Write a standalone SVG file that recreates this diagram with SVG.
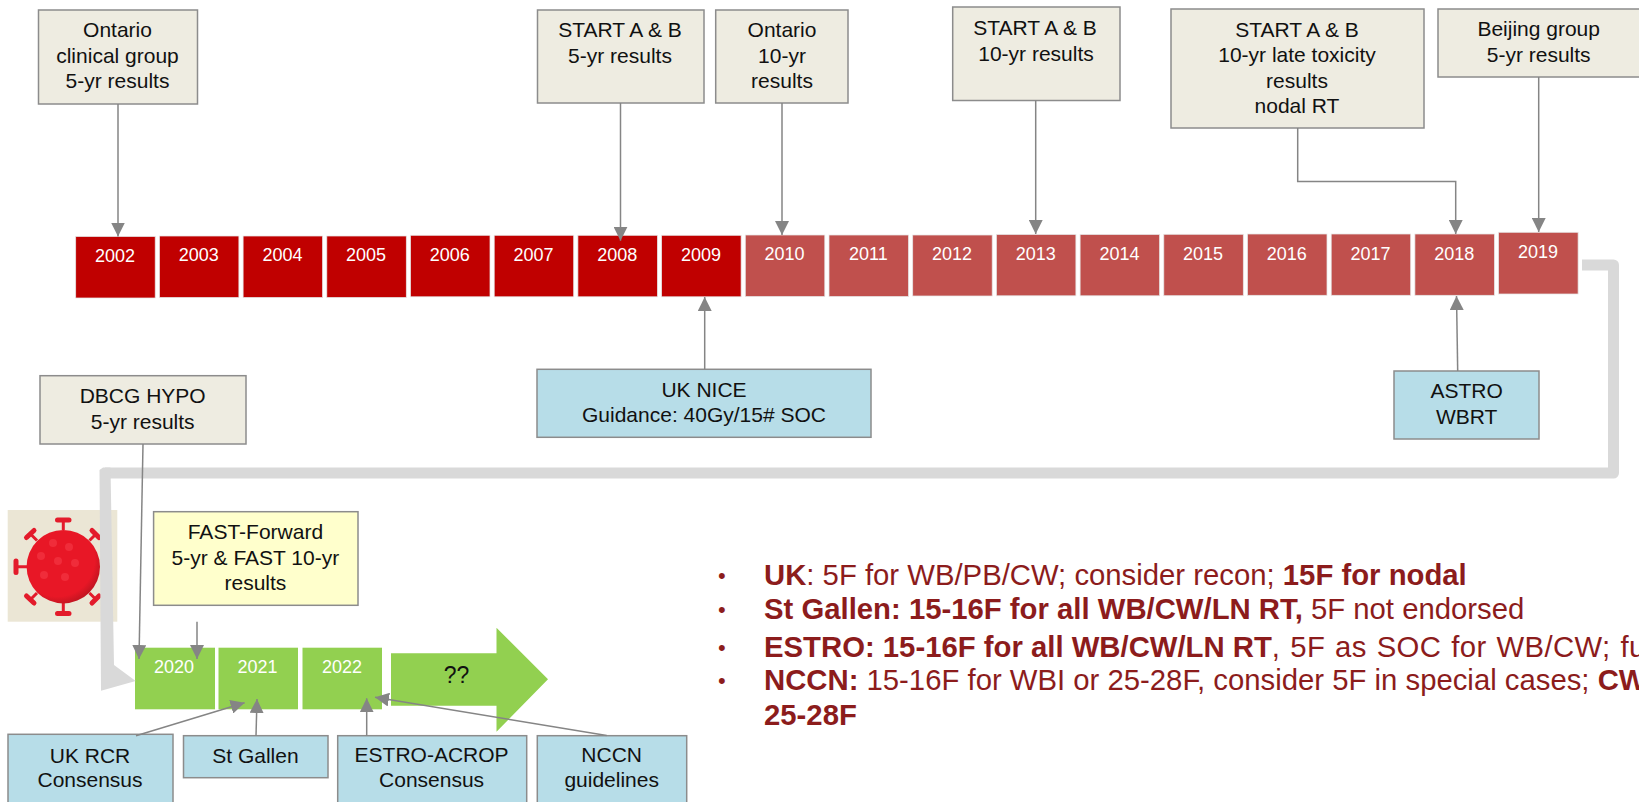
<svg xmlns="http://www.w3.org/2000/svg" width="1639" height="802" viewBox="0 0 1639 802">
<style>
text{font-family:"Liberation Sans",Arial,sans-serif}
.b{stroke:#8c8c8c;stroke-width:1.5}
.note{fill:#eeece1}.guide{fill:#b7dde8}.yellow{fill:#ffffcc}
.t{font-size:21px;fill:#111;text-anchor:middle}
.q{font-size:23px}
.yr{stroke:#e6e6e6;stroke-width:.75}
.y{font-size:18px;fill:#fff;text-anchor:middle}
.dark{fill:#c00000}.light{fill:#c0504d}.green{fill:#92d050}
.c{fill:none;stroke:#858585;stroke-width:1.5;marker-end:url(#ah)}
.l{font-size:29.3px;fill:#8c1c1c}
.dot{font-size:22px;fill:#8c1c1c}
.bd{font-weight:bold}
.wide{letter-spacing:.4px;word-spacing:1.3px}
.spike{stroke:#e31b2b;stroke-width:3;fill:none}
.cap{stroke:#e31b2b;stroke-width:5;stroke-linecap:round;fill:none}
.spot{fill:#f02c3a}
</style>
<defs>
<marker id="ah" markerUnits="userSpaceOnUse" markerWidth="14" markerHeight="14" refX="14" refY="7" orient="auto"><path d="M0 0L14 7L0 14Z" fill="#858585"/></marker>
<radialGradient id="vg" cx="0.42" cy="0.4" r="0.65"><stop offset="0.78" stop-color="#e81726"/><stop offset="1" stop-color="#b8141f"/></radialGradient>
</defs>
<g id="virus">
<rect x="7.7" y="510" width="109.6" height="111.7" fill="#ebe6d5"/>
<path class="spike" d="M63.3 530V522M63.3 603V612M27 566.7H18M37 540.5L31 534.5M37 593L31 599M89.5 540.5L95.5 534.5M89.5 593L95.5 599"/>
<path class="cap" d="M57.5 520H69M57.5 613.5H69M16 561V572.5M26.5 537.5L34 530.5M26.5 596L34 603M92 530.5L99 537.5M92 603L99 596"/>
<circle cx="63.3" cy="566.7" r="36.7" fill="url(#vg)"/>
<circle class="spot" cx="53" cy="543" r="4"/><circle class="spot" cx="69" cy="547" r="4"/><circle class="spot" cx="41" cy="556" r="4"/><circle class="spot" cx="58" cy="561" r="4"/><circle class="spot" cx="75" cy="563" r="4"/><circle class="spot" cx="44" cy="575" r="4"/><circle class="spot" cx="65" cy="577" r="4"/>
</g>
<g id="n-ontario-5"><rect class="b note" x="38.5" y="10" width="159" height="94"/><text class="t" x="117.5" y="37">Ontario</text><text class="t" x="117.5" y="63">clinical group</text><text class="t" x="117.5" y="88">5-yr results</text></g>
<g id="n-start-5"><rect class="b note" x="537.5" y="10" width="166.5" height="93"/><text class="t" x="620" y="37">START A &amp; B</text><text class="t" x="620" y="63">5-yr results</text></g>
<g id="n-ontario-10"><rect class="b note" x="715.7" y="10" width="132.3" height="93"/><text class="t" x="782" y="37">Ontario</text><text class="t" x="782" y="63">10-yr</text><text class="t" x="782" y="88">results</text></g>
<g id="n-start-10"><rect class="b note" x="952.7" y="7" width="167.3" height="93.5"/><text class="t" x="1035" y="35">START A &amp; B</text><text class="t" x="1036" y="60.5">10-yr results</text></g>
<g id="n-start-late"><rect class="b note" x="1171" y="9" width="253" height="119"/><text class="t" x="1297" y="36.7">START A &amp; B</text><text class="t" x="1297" y="62">10-yr late toxicity</text><text class="t" x="1297" y="87.5">results</text><text class="t" x="1297" y="113">nodal RT</text></g>
<g id="n-beijing"><rect class="b note" x="1438" y="9" width="210" height="68"/><text class="t" x="1538.7" y="36">Beijing group</text><text class="t" x="1538.7" y="62">5-yr results</text></g>
<g id="n-nice"><rect class="b guide" x="537" y="369.3" width="334" height="68"/><text class="t" x="704" y="396.7">UK NICE</text><text class="t" x="704" y="422.3">Guidance: 40Gy/15# SOC</text></g>
<g id="n-astro"><rect class="b guide" x="1394" y="371" width="145" height="68"/><text class="t" x="1466.7" y="398">ASTRO</text><text class="t" x="1466.7" y="424">WBRT</text></g>
<g id="n-dbcg"><rect class="b note" x="40" y="375.7" width="206" height="68.3"/><text class="t" x="142.7" y="403.3">DBCG HYPO</text><text class="t" x="142.7" y="429.3">5-yr results</text></g>
<g id="n-fast"><rect class="b yellow" x="153.6" y="511.7" width="204.4" height="93.6"/><text class="t" x="255.4" y="539.3">FAST-Forward</text><text class="t" x="255.4" y="565">5-yr &amp; FAST 10-yr</text><text class="t" x="255.4" y="589.5">results</text></g>
<g id="n-rcr"><rect class="b guide" x="8" y="734.3" width="165" height="80"/><text class="t" x="90" y="762.7">UK RCR</text><text class="t" x="90" y="787.3">Consensus</text></g>
<g id="n-stgallen"><rect class="b guide" x="183.5" y="735.7" width="144.5" height="42"/><text class="t" x="255.4" y="762.7">St Gallen</text></g>
<g id="n-estro"><rect class="b guide" x="337.7" y="735.7" width="189" height="80"/><text class="t" x="431.6" y="761.7">ESTRO-ACROP</text><text class="t" x="431.6" y="787.3">Consensus</text></g>
<g id="n-nccn"><rect class="b guide" x="537.3" y="735.7" width="149.4" height="80"/><text class="t" x="611.7" y="761.7">NCCN</text><text class="t" x="611.7" y="787.3">guidelines</text></g>
<g id="y2002"><rect class="yr dark" x="75.7" y="236.5" width="79.5" height="61.5"/><text class="y" x="115" y="261.7">2002</text></g>
<g id="y2003"><rect class="yr dark" x="159.4" y="236" width="79.5" height="61.5"/><text class="y" x="198.7" y="261.3">2003</text></g>
<g id="y2004"><rect class="yr dark" x="243.1" y="236" width="79.5" height="61.5"/><text class="y" x="282.4" y="261.3">2004</text></g>
<g id="y2005"><rect class="yr dark" x="326.8" y="236" width="79.5" height="61.5"/><text class="y" x="366.1" y="261.3">2005</text></g>
<g id="y2006"><rect class="yr dark" x="410.5" y="235.3" width="79.5" height="61.5"/><text class="y" x="449.8" y="260.7">2006</text></g>
<g id="y2007"><rect class="yr dark" x="494.2" y="235.3" width="79.5" height="61.5"/><text class="y" x="533.5" y="260.7">2007</text></g>
<g id="y2008"><rect class="yr dark" x="577.9" y="235.3" width="79.5" height="61.5"/><text class="y" x="617.2" y="260.7">2008</text></g>
<g id="y2009"><rect class="yr dark" x="661.6" y="235.3" width="79.5" height="61.5"/><text class="y" x="700.9" y="260.7">2009</text></g>
<g id="y2010"><rect class="yr light" x="745.3" y="235" width="79.5" height="61.5"/><text class="y" x="784.6" y="260.3">2010</text></g>
<g id="y2011"><rect class="yr light" x="829" y="235" width="79.5" height="61.5"/><text class="y" x="868.3" y="260.3">2011</text></g>
<g id="y2012"><rect class="yr light" x="912.7" y="235" width="79.5" height="61"/><text class="y" x="952" y="260">2012</text></g>
<g id="y2013"><rect class="yr light" x="996.4" y="234.5" width="79.5" height="61.3"/><text class="y" x="1035.7" y="260">2013</text></g>
<g id="y2014"><rect class="yr light" x="1080.1" y="234.5" width="79.5" height="61.3"/><text class="y" x="1119.4" y="260">2014</text></g>
<g id="y2015"><rect class="yr light" x="1163.8" y="234.3" width="79.5" height="61.4"/><text class="y" x="1203.1" y="260">2015</text></g>
<g id="y2016"><rect class="yr light" x="1247.5" y="234" width="79.5" height="61.3"/><text class="y" x="1286.8" y="259.7">2016</text></g>
<g id="y2017"><rect class="yr light" x="1331.2" y="234" width="79.5" height="61.3"/><text class="y" x="1370.5" y="259.7">2017</text></g>
<g id="y2018"><rect class="yr light" x="1414.9" y="234" width="79.5" height="61.3"/><text class="y" x="1454.2" y="259.7">2018</text></g>
<g id="y2019"><rect class="yr light" x="1498.6" y="232.3" width="79.5" height="61.7"/><text class="y" x="1538" y="258">2019</text></g>
<g id="y2020"><rect class="green" x="135" y="647.7" width="80" height="61.6"/><text class="y" x="174" y="672.7">2020</text></g>
<g id="y2021"><rect class="green" x="218.5" y="647.7" width="79.5" height="61.6"/><text class="y" x="257.5" y="672.7">2021</text></g>
<g id="y2022"><rect class="green" x="302.5" y="647.7" width="79.5" height="61.6"/><text class="y" x="342" y="672.7">2022</text></g>
<g id="n-future"><path class="green" d="M391 653.3H496.5V627.7L548 679.3L496.5 731.7V705.7H391Z"/><text class="t q" x="456.5" y="682.7">??</text></g>
<g id="guidance-list">
<text class="dot" x="718" y="583">•</text><text class="l" x="764" y="585"><tspan class="bd">UK</tspan>: 5F for WB/PB/CW; consider recon; <tspan class="bd">15F for nodal</tspan></text>
<text class="dot" x="718" y="617">•</text><text class="l" x="764" y="619"><tspan class="bd">St Gallen: 15-16F for all WB/CW/LN RT,</tspan> 5F not endorsed</text>
<text class="dot" x="718" y="654.5">•</text><text class="l" x="764" y="656.5"><tspan class="bd">ESTRO: 15-16F for all WB/CW/LN RT</tspan><tspan class="wide">, 5F as SOC for WB/CW; fur</tspan></text>
<text class="dot" x="718" y="688">•</text><text class="l" x="764" y="690"><tspan class="bd">NCCN:</tspan> 15-16F for WBI or 25-28F, consider 5F in special cases; <tspan class="bd">CW</tspan></text>
<text class="l bd" x="764" y="725">25-28F</text>
</g>
<g id="connectors">
<path d="M1582 265H1613.5V473H105" fill="none" stroke="#d9d9d9" stroke-width="11" stroke-linejoin="round"/>
<path d="M99.5 470L103 467.5H110.5L114 665L135.7 681L101 690.7Z" fill="#d9d9d9"/>
<path class="c" d="M118 104V236.5"/>
<path class="c" d="M620.5 103V240.7"/>
<path class="c" d="M782 103V235"/>
<path class="c" d="M1035.7 100.5V234"/>
<path class="c" d="M1297.7 128V181.5H1455.7V234"/>
<path class="c" d="M1538.7 77V232"/>
<path class="c" d="M704.7 369.3V297"/>
<path class="c" d="M1457.7 371L1456.5 296"/>
<path class="c" d="M143 444L139 659"/>
<path class="c" d="M197 621.7V659"/>
<path class="c" d="M136 735.7L244.6 702.7"/>
<path class="c" d="M256 735.7L257 699"/>
<path class="c" d="M366.7 735.7V698.3"/>
<path class="c" d="M606.7 735.5L375 697.3"/>
</g>
</svg>
